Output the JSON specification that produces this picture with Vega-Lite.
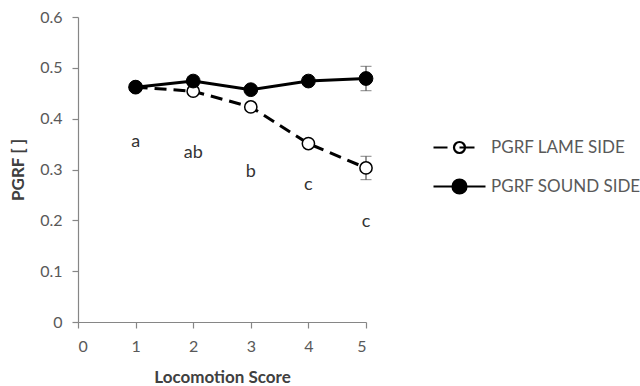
{
  "$schema": "https://vega.github.io/schema/vega-lite/v6.json",
  "width": 288,
  "height": 305,
  "autosize": {"type": "none"},
  "padding": {"left": 78, "top": 17, "right": 274, "bottom": 64},
  "background": "white",
  "config": {
    "view": {"stroke": null},
    "font": "Lato",
    "axis": {
      "grid": false,
      "domainColor": "#868686",
      "domainWidth": 1.2,
      "tickColor": "#868686",
      "tickWidth": 1.2,
      "tickSize": 6,
      "labelColor": "#595959",
      "labelFont": "Lato",
      "labelFontSize": 16,
      "titleColor": "#404040",
      "titleFont": "Lato",
      "titleFontSize": 17,
      "titleFontWeight": "bold"
    },
    "legend": {
      "labelFont": "Lato",
      "labelFontSize": 17,
      "labelColor": "#595959"
    }
  },
  "datasets": {
    "pgrf": [
      {"score": 1, "pgrf": 0.462, "series": "PGRF LAME SIDE"},
      {"score": 2, "pgrf": 0.454, "series": "PGRF LAME SIDE"},
      {"score": 3, "pgrf": 0.423, "series": "PGRF LAME SIDE"},
      {"score": 4, "pgrf": 0.351, "series": "PGRF LAME SIDE"},
      {"score": 5, "pgrf": 0.303, "series": "PGRF LAME SIDE"},
      {"score": 1, "pgrf": 0.462, "series": "PGRF SOUND SIDE"},
      {"score": 2, "pgrf": 0.474, "series": "PGRF SOUND SIDE"},
      {"score": 3, "pgrf": 0.457, "series": "PGRF SOUND SIDE"},
      {"score": 4, "pgrf": 0.474, "series": "PGRF SOUND SIDE"},
      {"score": 5, "pgrf": 0.479, "series": "PGRF SOUND SIDE"}
    ],
    "errors": [
      {"score": 5, "lo": 0.280, "hi": 0.326, "series": "PGRF LAME SIDE"},
      {"score": 5, "lo": 0.455, "hi": 0.503, "series": "PGRF SOUND SIDE"}
    ],
    "letters": [
      {"score": 1, "pgrf": 0.354, "letter": "a"},
      {"score": 2, "pgrf": 0.333, "letter": "ab"},
      {"score": 3, "pgrf": 0.295, "letter": "b"},
      {"score": 4, "pgrf": 0.269, "letter": "c"},
      {"score": 5, "pgrf": 0.197, "letter": "c"}
    ]
  },
  "layer": [
    {
      "data": {"name": "pgrf"},
      "transform": [{"filter": "datum.series === 'PGRF LAME SIDE'"}],
      "mark": {"type": "line", "color": "black", "strokeWidth": 3, "strokeDash": [12, 7]},
      "encoding": {
        "x": {
          "field": "score", "type": "quantitative",
          "scale": {"domain": [0, 5], "nice": false, "zero": false},
          "axis": {"values": [0, 1, 2, 3, 4, 5], "format": "d", "title": "Locomotion Score", "labelPadding": 10, "titlePadding": 15}
        },
        "y": {
          "field": "pgrf", "type": "quantitative",
          "scale": {"domain": [0, 0.6], "nice": false},
          "axis": {"values": [0, 0.1, 0.2, 0.3, 0.4, 0.5, 0.6], "format": ".1~f", "title": "PGRF [ ]", "labelPadding": 10, "titlePadding": 12}
        }
      }
    },
    {
      "data": {"name": "pgrf"},
      "transform": [{"filter": "datum.series === 'PGRF SOUND SIDE'"}],
      "mark": {"type": "line", "color": "black", "strokeWidth": 3},
      "encoding": {
        "x": {"field": "score", "type": "quantitative"},
        "y": {"field": "pgrf", "type": "quantitative"}
      }
    },
    {
      "data": {"name": "errors"},
      "mark": {"type": "errorbar", "ticks": {"size": 11, "color": "#505050", "strokeWidth": 1.2}, "rule": {"color": "#505050", "strokeWidth": 1.2}},
      "encoding": {
        "x": {"field": "score", "type": "quantitative"},
        "y": {"field": "lo", "type": "quantitative", "title": "PGRF [ ]"},
        "y2": {"field": "hi"}
      }
    },
    {
      "data": {"name": "pgrf"},
      "mark": {"type": "point", "stroke": "black", "opacity": 1, "filled": false},
      "encoding": {
        "x": {"field": "score", "type": "quantitative"},
        "y": {"field": "pgrf", "type": "quantitative", "title": "PGRF [ ]"},
        "fill": {
          "field": "series", "type": "nominal",
          "scale": {"domain": ["PGRF LAME SIDE", "PGRF SOUND SIDE"], "range": ["white", "black"]},
          "legend": {
            "title": null,
            "orient": "none",
            "legendX": 370,
            "legendY": 119,
            "padding": 0,
            "symbolSize": 400,
            "symbolStrokeColor": "black",
            "symbolStrokeWidth": 2.2,
            "symbolType": {"expr": "datum.value === 'PGRF LAME SIDE' ? 'M-2.6,0H-1.2M0.55,0A0.55,0.55 0 1,1 -0.55,0A0.55,0.55 0 1,1 0.55,0M0,0H1.5' : 'M-2.6,0H2.6M0.7,0A0.7,0.7 0 1,1 -0.7,0A0.7,0.7 0 1,1 0.7,0'"},
            "labelOffset": 20,
            "rowPadding": 17
          }
        },
        "size": {"condition": {"test": "datum.series === 'PGRF LAME SIDE'", "value": 150}, "value": 190},
        "strokeWidth": {"condition": {"test": "datum.series === 'PGRF LAME SIDE'", "value": 1.5}, "value": 1}
      }
    },
    {
      "data": {"name": "letters"},
      "mark": {"type": "text", "font": "Lato", "fontSize": 18, "color": "#333333", "baseline": "middle", "align": "center"},
      "encoding": {
        "x": {"field": "score", "type": "quantitative"},
        "y": {"field": "pgrf", "type": "quantitative"},
        "text": {"field": "letter"}
      }
    }
  ]
}
